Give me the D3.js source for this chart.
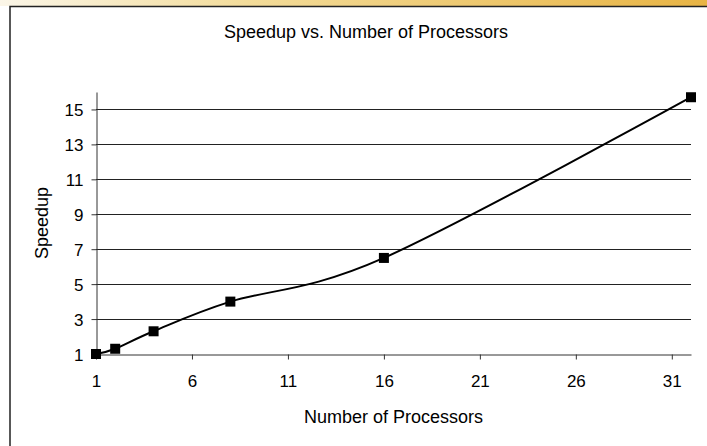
<!DOCTYPE html>
<html>
<head>
<meta charset="utf-8">
<script src="https://cdn.jsdelivr.net/npm/d3@7"></script>
<style>
  body { margin: 0; background: #fff; }
  text { font-family: "Liberation Sans", Arial, sans-serif; fill: #000; }
</style>
</head>
<body>
<div id="chart"></div>
<script>
// data
const processors = [1, 2, 4, 8, 16, 32];
const speedup = [1.0, 1.3, 2.3, 4.0, 6.5, 15.7];
const xTickValues = [1, 6, 11, 16, 21, 26, 31];
const yTickValues = [1, 3, 5, 7, 9, 11, 13, 15];

const width = 707;
const height = 446;
const margin = { top: 92, right: 16, bottom: 92, left: 96 };
const tickFont = 17;
const labelFont = 18;

const svg = d3
  .select("#chart")
  .append("svg")
  .attr("width", width)
  .attr("height", height);

// slide strip at the top + chart frame
const grad = svg.append("defs").append("linearGradient").attr("id", "strip");
grad.append("stop").attr("offset", "0%").attr("stop-color", "#fbf6e8");
grad.append("stop").attr("offset", "35%").attr("stop-color", "#f3dc9a");
grad.append("stop").attr("offset", "100%").attr("stop-color", "#e8b444");
svg.append("rect").attr("x", 0).attr("y", 0).attr("width", width).attr("height", 6)
  .attr("fill", "url(#strip)");

svg.append("path")
  .attr("d", `M10,${height} V6.5 H${width}`)
  .attr("fill", "none")
  .attr("stroke", "#222")
  .attr("stroke-width", 1.5);

const x = d3.scaleLinear()
  .domain([1, 32])
  .range([margin.left, width - margin.right]);

const y = d3.scaleLinear()
  .domain([1, 16])
  .range([height - margin.bottom, margin.top]);

// gridlines
svg.append("g")
  .selectAll("line")
  .data(yTickValues.slice(1))
  .enter()
  .append("line")
  .attr("x1", x(1))
  .attr("x2", x(32))
  .attr("y1", (d) => Math.round(y(d)) + 0.5)
  .attr("y2", (d) => Math.round(y(d)) + 0.5)
  .attr("stroke", "#222")
  .attr("stroke-width", 1);

// axes
const xAxis = svg.append("g")
  .attr("transform", `translate(0, ${Math.round(y(1)) + 0.5})`)
  .call(d3.axisBottom(x).tickValues(xTickValues).tickSize(5).tickPadding(15).tickSizeOuter(0));

const yAxis = svg.append("g")
  .attr("transform", `translate(${x(1) + 0.5}, 0)`)
  .call(d3.axisLeft(y).tickValues(yTickValues).tickSize(5).tickPadding(8).tickSizeOuter(0));

[xAxis, yAxis].forEach((g) => {
  g.select(".domain").attr("stroke", "#333");
  g.selectAll(".tick line").attr("stroke", "#333");
  g.selectAll(".tick text")
    .style("font-family", '"Liberation Sans", Arial, sans-serif')
    .style("font-size", tickFont + "px")
    .attr("fill", "#000");
});
yAxis.selectAll(".tick text").attr("dy", "0.36em");

// line
const pts = processors.map((p, i) => [p, speedup[i]]);

svg.append("path")
  .datum(pts)
  .attr("fill", "none")
  .attr("stroke", "#000")
  .attr("stroke-width", 2)
  .attr("d", d3.line()
    .x((d) => x(d[0]))
    .y((d) => y(d[1]))
    .curve(d3.curveCardinal.tension(0)));

const mk = 10;
svg.selectAll(".marker")
  .data(pts)
  .enter()
  .append("rect")
  .attr("class", "marker")
  .attr("x", (d) => x(d[0]) - mk / 2)
  .attr("y", (d) => y(d[1]) - mk / 2)
  .attr("width", mk)
  .attr("height", mk)
  .attr("fill", "#000");

// titles
svg.append("text")
  .attr("x", 366)
  .attr("y", 38)
  .attr("text-anchor", "middle")
  .style("font-size", labelFont + "px")
  .text("Speedup vs. Number of Processors");

svg.append("text")
  .attr("x", (x(1) + x(32)) / 2)
  .attr("y", 423)
  .attr("text-anchor", "middle")
  .style("font-size", labelFont + "px")
  .text("Number of Processors");

svg.append("text")
  .attr("transform", `translate(48, 223) rotate(-90)`)
  .attr("text-anchor", "middle")
  .style("font-size", labelFont + "px")
  .text("Speedup");
</script>
</body>
</html>
